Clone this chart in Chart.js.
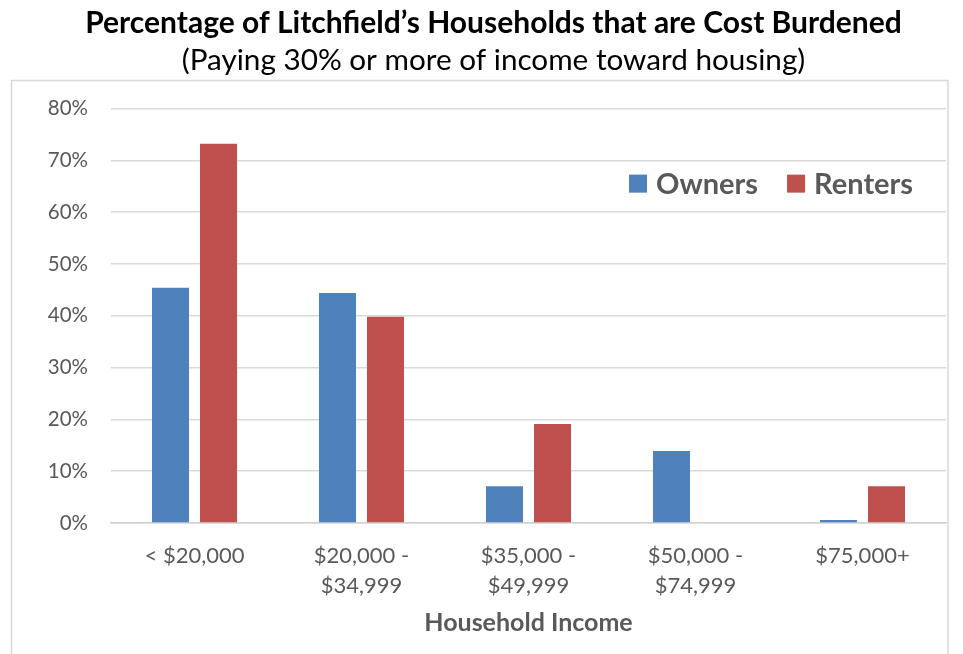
<!DOCTYPE html>
<html>
<head>
<meta charset="utf-8">
<script src="https://cdn.jsdelivr.net/npm/chart.js@4"></script>
<style>
  html, body { margin: 0; padding: 0; background: #fff; }
  #wrap { width: 963px; height: 654px; position: relative; }
</style>
</head>
<body>
<div id="wrap"><canvas id="c" width="963" height="654"></canvas></div>
<script>
// Income brackets (multi-line labels)
const categories = [
  ['< $20,000'],
  ['$20,000 -', '$34,999'],
  ['$35,000 -', '$49,999'],
  ['$50,000 -', '$74,999'],
  ['$75,000+']
];
// Share of households paying 30%+ of income on housing (%)
const owners  = [45.4, 44.4, 7.1, 13.9, 0.6];
const renters = [73.2, 39.8, 19.1, 0.0, 7.1];
const seriesNames = ['Owners', 'Renters'];
const seriesColors = ['#4F81BD', '#C0504D'];

const FONT = 'Lato, "Open Sans", sans-serif';
const TEXT_GRAY = '#595959';

// Light frame around the plot region, below the headings
const framePlugin = {
  id: 'frame',
  beforeDraw(chart) {
    const ctx = chart.ctx;
    ctx.save();
    ctx.fillStyle = '#fff';
    ctx.fillRect(0, 0, chart.width, chart.height);
    ctx.strokeStyle = '#d9d9d9';
    ctx.lineWidth = 1.5;
    ctx.strokeRect(11.5, 80.5, 936.5, 600);
    ctx.restore();
  }
};

// Legend drawn inside the plot area, upper right
const innerLegend = {
  id: 'innerLegend',
  afterDraw(chart) {
    const ctx = chart.ctx;
    const area = chart.chartArea;
    ctx.save();
    ctx.font = 'bold 29px ' + FONT;
    ctx.textBaseline = 'middle';
    ctx.textAlign = 'left';
    let x = area.left + 518;
    const cy = area.top + 75;
    chart.data.datasets.forEach((ds) => {
      ctx.fillStyle = ds.backgroundColor;
      ctx.fillRect(x, cy - 9, 18, 18);
      x += 27;
      ctx.fillStyle = TEXT_GRAY;
      ctx.fillText(ds.label, x, cy + 1);
      x += ctx.measureText(ds.label).width + 29;
    });
    ctx.restore();
  }
};

new Chart(document.getElementById('c'), {
  type: 'bar',
  data: {
    labels: categories,
    datasets: [
      { label: seriesNames[0], data: owners, backgroundColor: seriesColors[0] },
      { label: seriesNames[1], data: renters, backgroundColor: seriesColors[1] }
    ]
  },
  options: {
    responsive: false,
    animation: false,
    devicePixelRatio: 1,
    categoryPercentage: 0.575,
    barPercentage: 0.771,
    layout: { padding: { top: 0, left: 41, right: 17, bottom: 12 } },
    plugins: {
      legend: { display: false },
      tooltip: { enabled: false },
      title: {
        display: true,
        text: 'Percentage of Litchfield\u2019s Households that are Cost Burdened',
        color: '#000',
        font: { family: FONT, size: 30, weight: 'bold' },
        padding: { top: 5, bottom: 2 }
      },
      subtitle: {
        display: true,
        text: '(Paying 30% or more of income toward housing)',
        color: '#000',
        font: { family: FONT, size: 29.7 },
        padding: { top: 0, bottom: 30 }
      }
    },
    scales: {
      y: {
        min: 0, max: 80,
        ticks: {
          stepSize: 10,
          color: TEXT_GRAY,
          font: { family: FONT, size: 20.5 },
          padding: 23,
          callback: v => v + '%'
        },
        grid: { color: '#d9d9d9', lineWidth: 1.5, drawTicks: false },
        border: { display: false },
        afterFit(scale) { scale.width = 70; }
      },
      x: {
        ticks: {
          color: TEXT_GRAY,
          font: { family: FONT, size: 22, lineHeight: 1.36 },
          padding: 18,
          maxRotation: 0,
          autoSkip: false
        },
        grid: { display: false, drawTicks: false },
        border: { display: true, color: '#d0d0d0', width: 1.5 },
        title: {
          display: true,
          text: 'Household Income',
          color: TEXT_GRAY,
          font: { family: FONT, size: 25, weight: 'bold' },
          padding: { top: 12, bottom: 4 }
        },
        afterFit(scale) { scale.height = 119; }
      }
    }
  },
  plugins: [framePlugin, innerLegend]
});
</script>
</body>
</html>
